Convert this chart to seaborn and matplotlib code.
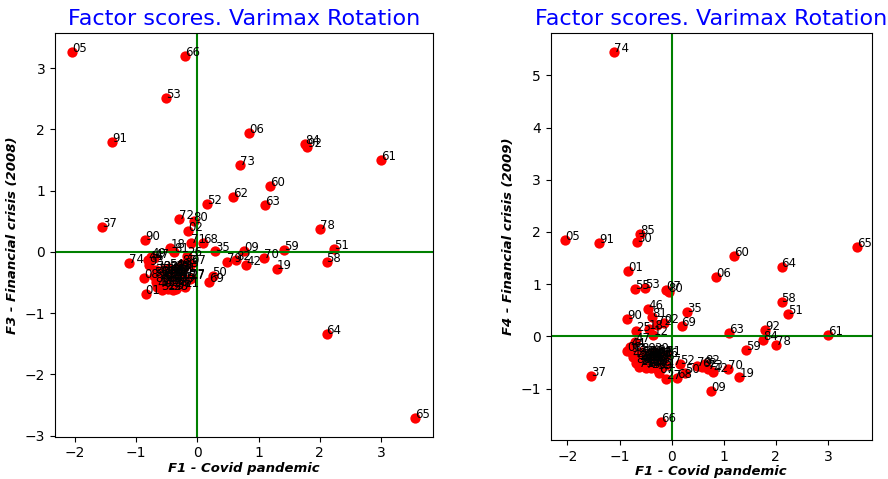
import matplotlib
matplotlib.use("Agg")
import matplotlib.pyplot as plt
import seaborn as sns
import pandas as pd

labels = ["01", "02", "03", "04", "05", "06", "07", "08", "09", "10",
          "11", "12", "13", "14", "15", "16", "17", "18", "19", "20",
          "21", "22", "23", "24", "25", "26", "27", "28", "29", "30",
          "31", "32", "33", "34", "35", "36", "37", "38", "39", "40",
          "41", "42", "43", "44", "45", "46", "47", "48", "49", "50",
          "51", "52", "53", "54", "55", "56", "57", "58", "59", "60",
          "61", "62", "63", "64", "65", "66", "67", "68", "69", "70",
          "71", "72", "73", "74", "75", "76", "77", "78", "79", "80",
          "81", "82", "83", "84", "85", "86", "87", "88", "89", "90",
          "91", "92", "93"]

f1 = [-0.84, -0.15, -0.52, -0.45, -2.04, 0.85, -0.10, -0.86, 0.76, -0.38,
      -0.20, -0.35, -0.60, -0.48, -0.42, -0.35, -0.10, -0.44, 1.30, -0.55,
      -0.30, -0.50, -0.44, -0.62, -0.68, -0.17, -0.11, -0.40, -0.33, -0.67,
      -0.26, -0.58, -0.22, -0.47, 0.29, -0.37, -1.55, -0.55, -0.28, -0.65,
      -0.43, 0.80, -0.39, -0.80, -0.53, -0.45, -0.70, -0.31, -0.75, 0.25,
      2.23, 0.16, -0.51, -0.46, -0.71, -0.57, -0.34, 2.11, 1.42, 1.19,
      3.00, 0.58, 1.11, 2.11, 3.56, -0.20, -0.24, 0.10, 0.19, 1.09,
      -0.10, -0.29, 0.70, -1.11, -0.63, -0.41, -0.50, 2.00, 0.48, -0.06,
      -0.38, 0.64, -0.36, 1.76, -0.61, -0.68, -0.29, -0.25, -0.59, -0.85,
      -1.39, 1.79, -0.78]

f3 = [-0.69, 0.34, -0.48, -0.42, 3.27, 1.94, -0.20, -0.42, 0.02, -0.36,
      -0.58, -0.30, -0.55, -0.60, -0.52, -0.45, -0.42, 0.07, -0.28, -0.40,
      -0.40, -0.35, -0.30, -0.45, -0.35, -0.07, -0.45, -0.62, -0.28, -0.30,
      -0.33, -0.62, -0.25, -0.50, 0.02, -0.55, 0.40, -0.30, -0.50, -0.58,
      -0.38, -0.21, -0.47, -0.14, -0.56, -0.35, -0.10, -0.35, -0.09, -0.39,
      0.05, 0.78, 2.51, -0.27, -0.40, -0.50, -0.60, -0.16, 0.03, 1.07,
      1.50, 0.89, 0.76, -1.35, -2.72, 3.20, -0.42, 0.14, -0.50, -0.10,
      0.15, 0.54, 1.42, -0.18, -0.35, -0.44, -0.45, 0.38, -0.16, 0.51,
      -0.01, -0.14, -0.32, 1.76, -0.45, -0.50, -0.55, -0.20, -0.38, 0.20,
      1.80, 1.72, -0.22]

f4 = [1.26, 0.25, -0.50, -0.45, 1.84, 1.14, 0.89, -0.28, -1.05, -0.40,
      -0.60, 0.02, -0.55, -0.58, -0.48, -0.52, -0.55, 0.15, -0.77, -0.38,
      -0.44, -0.42, -0.35, -0.46, 0.10, -0.40, -0.81, -0.60, -0.30, 1.81,
      -0.38, -0.52, -0.45, -0.36, 0.46, -0.56, -0.76, -0.48, -0.62, -0.44,
      -0.54, -0.68, -0.33, -0.20, -0.40, 0.52, -0.11, -0.50, -0.40, -0.71,
      0.42, -0.52, 0.93, -0.57, 0.90, -0.35, -0.46, 0.65, -0.26, 1.53,
      0.02, -0.58, 0.07, 1.32, 1.72, -1.63, -0.70, -0.80, 0.19, -0.62,
      -0.35, 0.22, -0.62, 5.45, -0.58, -0.42, -0.60, -0.16, -0.56, 0.85,
      0.38, -0.52, -0.47, -0.06, 1.97, -0.50, -0.40, -0.37, -0.30, 0.33,
      1.78, 0.12, -0.30]

df = pd.DataFrame({"label": labels, "F1": f1, "F3": f3, "F4": f4})

fig = plt.figure(figsize=(8.88, 4.79), dpi=100)
ax1 = fig.add_axes([0.0619, 0.0883, 0.4253, 0.8422])
ax2 = fig.add_axes([0.6202, 0.0814, 0.3615, 0.8491])

panels = [(ax1, "F3", "F3 - Financial crisis (2008)"),
          (ax2, "F4", "F4 - Financial crisis (2009)")]

for ax, col, ylab in panels:
    sns.scatterplot(data=df, x="F1", y=col, color="red", s=55,
                    linewidth=0, ax=ax, zorder=1)
    ax.axhline(0, color="green", linewidth=1.5)
    ax.axvline(0, color="green", linewidth=1.5)
    for lab, xv, yv in zip(df["label"], df["F1"], df[col]):
        ax.text(xv, yv, lab, fontsize=8.5)
    ax.set_title("Factor scores. Varimax Rotation", color="blue", fontsize=16)
    ax.set_xlabel("F1 - Covid pandemic", fontweight="bold", fontstyle="italic",
                  fontsize=9.5, labelpad=1)
    ax.set_ylabel(ylab, fontweight="bold", fontstyle="italic", fontsize=9.5)

fig.savefig("out.png", dpi=100)
